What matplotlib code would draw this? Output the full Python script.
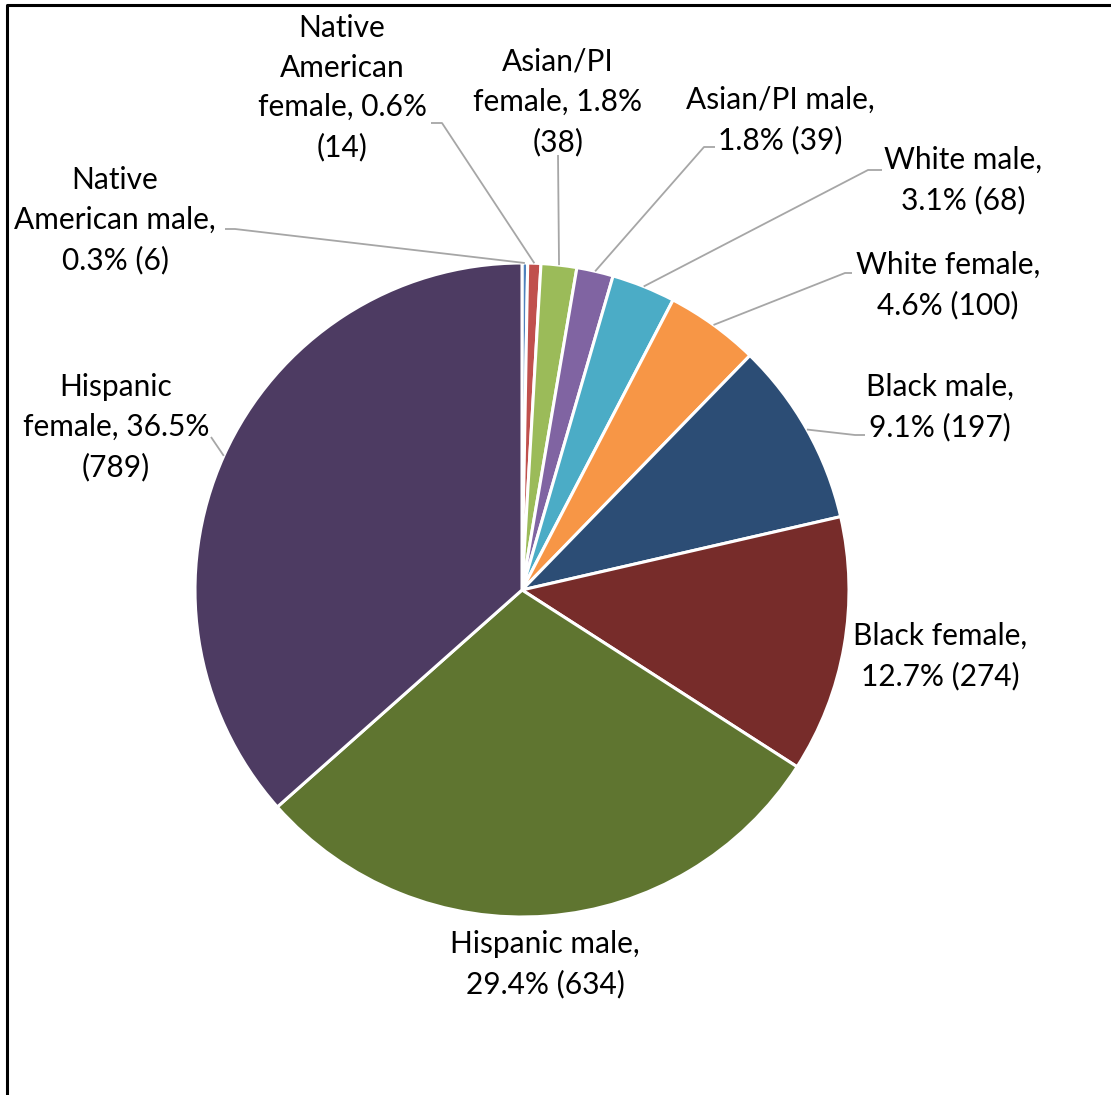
import numpy as np
import matplotlib
matplotlib.use("Agg")
import matplotlib.pyplot as plt

# slices, clockwise from 12 o'clock
groups = ["Native American male", "Native American female", "Asian/PI female",
          "Asian/PI male", "White male", "White female", "Black male",
          "Black female", "Hispanic male", "Hispanic female"]
counts = [6, 14, 38, 39, 68, 100, 197, 274, 634, 789]
colors = ["#4F81BD", "#C0504D", "#9BBB59", "#8064A2", "#4BACC6",
          "#F79646", "#2C4D75", "#772C2A", "#5F7530", "#4D3B62"]
labels = ["Native\nAmerican male,\n0.3% (6)",
          "Native\nAmerican\nfemale, 0.6%\n(14)",
          "Asian/PI\nfemale, 1.8%\n(38)",
          "Asian/PI male,\n1.8% (39)",
          "White male,\n3.1% (68)",
          "White female,\n4.6% (100)",
          "Black male,\n9.1% (197)",
          "Black female,\n12.7% (274)",
          "Hispanic male,\n29.4% (634)",
          "Hispanic\nfemale, 36.5%\n(789)"]

W, H = 1111, 1095
CX, CY, R = 522, 590, 327  # pie centre / radius in image pixels

# label centres and leader line (start, knee) in image pixels
label_pos = [(115, 220), (342, 88), (558, 102), (780, 120), (963, 180),
             (948, 285), (940, 407), (940, 656), (545, 964), (116, 427)]
leaders = [((225, 229), (235, 229)), ((431, 123), (442, 123)),
           ((558, 155), (558, 155)), ((715, 147), (704, 147)),
           ((882, 170), (868, 170)), ((852, 273), (845, 273)),
           ((865, 435), (855, 435)), None, None,
           ((211, 437), (211, 437))]

plt.rcParams["font.family"] = ["Lato", "DejaVu Sans"]

fig = plt.figure(figsize=(W / 100, H / 100), dpi=100)
ax = fig.add_axes([0, 0, 1, 1])


def fy(y):
    return H - y


wedges, _ = ax.pie(counts, colors=colors, startangle=90, counterclock=False,
                   center=(CX, fy(CY)), radius=R,
                   wedgeprops=dict(edgecolor="white", linewidth=2.2))
ax.set_xlim(0, W)
ax.set_ylim(0, H)
ax.set_aspect("equal")
ax.axis("off")

total = sum(counts)
cum = np.cumsum(counts) - np.array(counts) / 2
for i, lab in enumerate(labels):
    x, y = label_pos[i]
    ax.text(x, fy(y), lab, ha="center", va="center", fontsize=21.5,
            color="black", linespacing=1.5)
    if leaders[i] is None:
        continue
    ang = np.deg2rad(cum[i] / total * 360)
    ex = CX + R * np.sin(ang)
    ey = CY - R * np.cos(ang)
    (sx, sy), (kx, ky) = leaders[i]
    ax.plot([sx, kx, ex], [fy(sy), fy(ky), fy(ey)], color="#A6A6A6",
            lw=1.3, solid_capstyle="butt")

# chart frame (right and bottom edges fall outside the image)
ax.plot([7, 7, W + 5], [-5, fy(5), fy(5)], color="black", lw=2.2,
        clip_on=False)

fig.savefig("out.png", dpi=100)
